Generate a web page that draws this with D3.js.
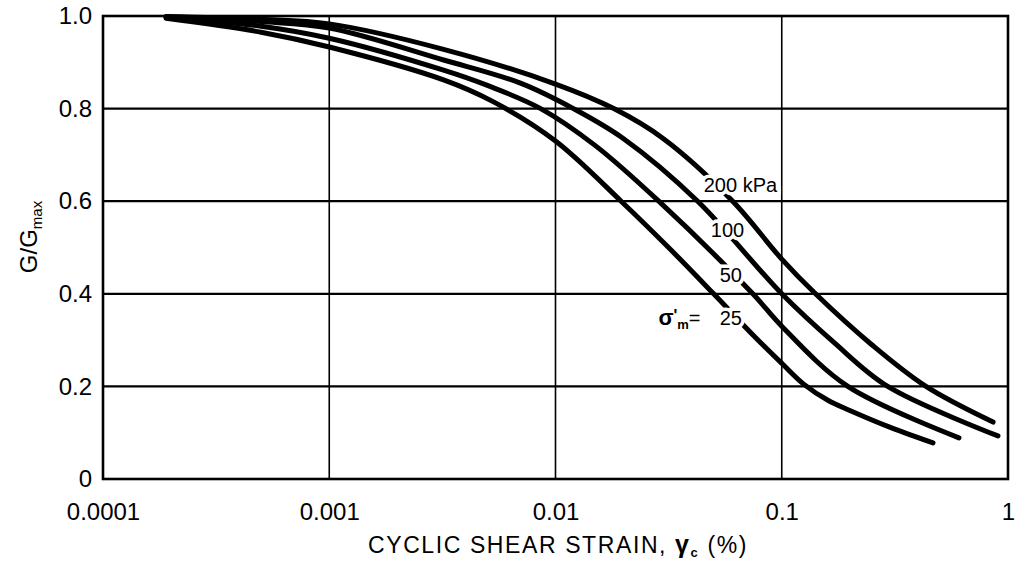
<!DOCTYPE html>
<html><head><meta charset="utf-8">
<script src="https://cdn.jsdelivr.net/npm/d3@7"></script>
<style>
html,body{margin:0;padding:0;background:#fff;}
svg{display:block;font-family:"Liberation Sans",Arial,Helvetica,sans-serif;}
</style></head>
<body>
<svg id="chart" width="1015" height="576"></svg>
<script>
// ---- data ----
const xTicks = [0.0001, 0.001, 0.01, 0.1, 1];
const xTickLabels = ["0.0001", "0.001", "0.01", "0.1", "1"];
const yTicks = [0, 0.2, 0.4, 0.6, 0.8, 1.0];
const yTickLabels = ["0", "0.2", "0.4", "0.6", "0.8", "1.0"];
const seriesNames = ["25", "50", "100", "200 kPa"];

const strain25  = [0.00019, 0.0005, 0.001, 0.0032, 0.0053, 0.01, 0.0195, 0.0316, 0.05, 0.075, 0.1, 0.125, 0.16, 0.2, 0.3, 0.466];
const ratio25   = [0.995, 0.965, 0.933, 0.862, 0.815, 0.73, 0.60, 0.50, 0.40, 0.31, 0.25, 0.205, 0.17, 0.148, 0.112, 0.078];

const strain50  = [0.00019, 0.0005, 0.001, 0.0032, 0.005, 0.0086, 0.015, 0.0286, 0.0745, 0.1, 0.196, 0.607];
const ratio50   = [0.997, 0.978, 0.952, 0.883, 0.85, 0.80, 0.72, 0.60, 0.40, 0.33, 0.20, 0.089];

const strain100 = [0.00019, 0.0005, 0.001, 0.0032, 0.007, 0.012, 0.02, 0.0425, 0.1, 0.17, 0.294, 0.903];
const ratio100  = [0.998, 0.988, 0.974, 0.905, 0.855, 0.80, 0.735, 0.60, 0.40, 0.295, 0.20, 0.093];

const strain200 = [0.00019, 0.0005, 0.001, 0.0032, 0.01, 0.0181, 0.03, 0.0607, 0.1, 0.141, 0.25, 0.434, 0.859];
const ratio200  = [0.999, 0.993, 0.983, 0.928, 0.853, 0.80, 0.735, 0.60, 0.475, 0.40, 0.29, 0.20, 0.123];

// ---- layout ----
const svg = d3.select("#chart");
const L = 103, R = 1008, T = 16, B = 479;
const x = d3.scaleLog().domain([0.0001, 1]).range([L, R]);
const y = d3.scaleLinear().domain([0, 1]).range([B, T]);

const series = [
  {name: seriesNames[0], xs: strain25,  ys: ratio25},
  {name: seriesNames[1], xs: strain50,  ys: ratio50},
  {name: seriesNames[2], xs: strain100, ys: ratio100},
  {name: seriesNames[3], xs: strain200, ys: ratio200}
];

// grid
const grid = svg.append("g");
grid.selectAll("line.h").data(yTicks.slice(1, -1)).join("line")
  .attr("x1", L).attr("x2", R).attr("y1", d => y(d)).attr("y2", d => y(d))
  .attr("stroke", "#000").attr("stroke-width", 2.2);
grid.selectAll("line.v").data(xTicks.slice(1, -1)).join("line")
  .attr("y1", T).attr("y2", B).attr("x1", d => x(d)).attr("x2", d => x(d))
  .attr("stroke", "#000").attr("stroke-width", 1.6);

// curves
const line = d3.line().x(d => x(d[0])).y(d => y(d[1])).curve(d3.curveCatmullRom.alpha(0.5));
svg.append("g").selectAll("path").data(series).join("path")
  .attr("d", s => line(s.xs.map((v, i) => [v, s.ys[i]])))
  .attr("fill", "none").attr("stroke", "#000").attr("stroke-width", 5)
  .attr("stroke-linecap", "round").attr("stroke-linejoin", "round");

// frame
svg.append("rect").attr("x", L).attr("y", T).attr("width", R - L).attr("height", B - T)
  .attr("fill", "none").attr("stroke", "#000").attr("stroke-width", 2.6);

// axes (tick labels only, drawn through d3 axes)
const xAxis = d3.axisBottom(x).tickValues(xTicks).tickFormat((d, i) => xTickLabels[i]).tickSize(0).tickPadding(24);
const gx = svg.append("g").attr("transform", `translate(0,${B})`).call(xAxis);
gx.select(".domain").remove();
gx.selectAll("text").attr("font-size", 24).attr("fill", "#000").attr("font-family", "Liberation Sans, Arial, sans-serif");

const yAxis = d3.axisLeft(y).tickValues(yTicks).tickFormat((d, i) => yTickLabels[i]).tickSize(0).tickPadding(11);
const gy = svg.append("g").attr("transform", `translate(${L},0)`).call(yAxis);
gy.select(".domain").remove();
gy.selectAll("text").attr("font-size", 24).attr("fill", "#000").attr("font-family", "Liberation Sans, Arial, sans-serif");

// curve labels with white halo (breaks the curves like the original)
const labels = [
  {t: seriesNames[3], gx: 0.0452, gy: 0.62},
  {t: seriesNames[2], gx: 0.0486, gy: 0.523},
  {t: seriesNames[1], gx: 0.0532, gy: 0.425},
  {t: seriesNames[0], gx: 0.0532, gy: 0.333}
];
svg.append("g").selectAll("text").data(labels).join("text")
  .attr("x", d => x(d.gx)).attr("y", d => y(d.gy))
  .attr("font-size", 20).attr("fill", "#000")
  .attr("stroke", "#fff").attr("stroke-width", 7).attr("paint-order", "stroke")
  .text(d => d.t);

// sigma'_m =
const sig = svg.append("text").attr("x", x(0.0285)).attr("y", y(0.333)).attr("font-size", 20).attr("fill", "#000");
sig.append("tspan").attr("font-weight", "bold").attr("font-size", 22).text("σ");
sig.append("tspan").attr("font-weight", "bold").attr("dy", -4).attr("font-size", 16).text("'");
sig.append("tspan").attr("dy", 8).attr("font-size", 13).attr("font-weight", "bold").text("m");
sig.append("tspan").attr("dy", -4).attr("font-size", 20).text("=");

// x axis title
const xt = svg.append("text").attr("x", 558).attr("y", 553).attr("text-anchor", "middle")
  .attr("font-size", 23).attr("fill", "#000").attr("letter-spacing", 1.6);
xt.append("tspan").text("CYCLIC SHEAR STRAIN,  ");
xt.append("tspan").attr("font-weight", "bold").attr("font-size", 25).text("γ");
xt.append("tspan").attr("font-size", 13).attr("font-weight", "bold").attr("dy", 4).text("c");
xt.append("tspan").attr("dy", -4).text("  (%)");

// y axis title
const yt = svg.append("text").attr("transform", "translate(37,237) rotate(-90)")
  .attr("text-anchor", "middle").attr("font-size", 24).attr("fill", "#000");
yt.append("tspan").text("G/G");
yt.append("tspan").attr("font-size", 15).attr("dy", 5).text("max");
</script>
</body></html>
